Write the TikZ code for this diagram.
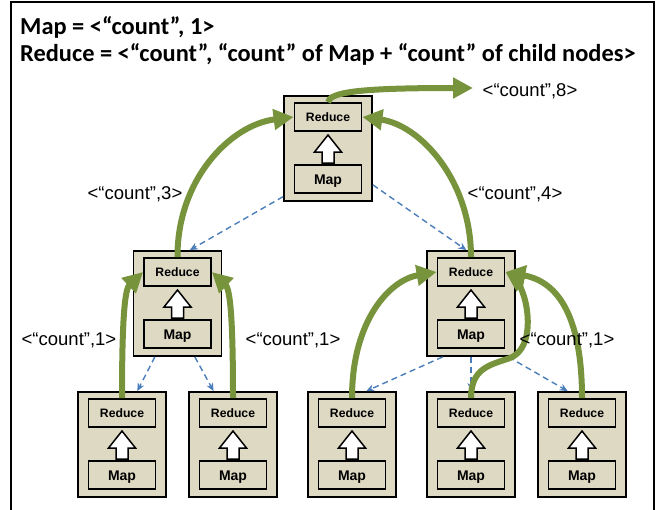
\documentclass[tikz,border=0pt]{standalone}
\usepackage{fontspec}
\setmainfont{Liberation Sans}
\newfontfamily\titlefont{Carlito}
\usetikzlibrary{arrows.meta}

\definecolor{boxtan}{HTML}{DDD9C3}
\definecolor{flowgreen}{HTML}{77933C}
\definecolor{linkblue}{HTML}{4A7EBB}

\tikzset{
  mrouter/.style={draw=black, line width=1.8pt, fill=boxtan,
    minimum width=88pt, minimum height=105pt, inner sep=0pt},
  mrinner/.style={draw=black, line width=1.8pt, fill=boxtan,
    minimum width=67pt, minimum height=28pt, inner sep=0pt},
  redtext/.style={font=\fontsize{12.2}{14}\selectfont\bfseries, text height=8.7pt, text depth=0pt},
  maptext/.style={font=\fontsize{14}{16}\selectfont\bfseries, text height=10pt, text depth=0pt},
  blockarrow/.style={draw=black, line width=1.5pt, fill=white, line join=miter},
  flowarrow/.style={draw=flowgreen, line width=6pt,
    -{Triangle[length=20pt,width=20pt]}},
  linkarrow/.style={draw=linkblue, line width=1.4pt, dash pattern=on 6pt off 4pt,
    -{Stealth[length=8pt,width=7pt]}},
  titletext/.style={font=\titlefont\bfseries\fontsize{24.4}{28}\selectfont, anchor=base west, inner sep=0pt},
  countlabel/.style={font=\fontsize{18.5}{22}\selectfont, anchor=base, inner sep=0pt},
}

% One map/reduce unit: #1 name, #2 centre x, #3 top y
\newcommand\mrunit[3]{%
  \node[mrouter] (#1) at (#2, #3+52.5) {};
  \node[mrinner, redtext] (#1r) at (#2, #3+21) {Reduce};
  \node[mrinner, maptext] (#1m) at (#2, #3+83) {Map};
  \draw[blockarrow] (#2, #3+39) -- (#2+13.5, #3+56) -- (#2+6, #3+56)
    -- (#2+6, #3+67) -- (#2-6, #3+67) -- (#2-6, #3+56) -- (#2-13.5, #3+56) -- cycle;
}

\begin{document}
\begin{tikzpicture}[x=1pt, y=-1pt]
\useasboundingbox (0,0) rectangle (660,509);
\fill[white] (0,0) rectangle (660,509);

% outer frame
\draw[line width=1.5pt] (11,520) -- (11,2) -- (654,2) -- (654,520);

% heading
\node[titletext] (head1) at (20,34) {Map = <“count”, 1>};
\node[titletext] (head2) at (20,61) {Reduce = <“count”, “count” of Map + “count” of child nodes>};

% units
\mrunit{top}{328}{96}
\mrunit{ml}{177.5}{251}
\mrunit{mr}{471}{251}
\mrunit{ba}{122}{392}
\mrunit{bb}{233}{392}
\mrunit{bc}{352}{392}
\mrunit{bd}{471}{392}
\mrunit{be}{582}{392}

% dashed tree links
\draw[linkarrow] (top.227) -- (ml.77);
\draw[linkarrow] (top.321) -- (mr.95);
\draw[linkarrow] (ml.247) -- (ba.74);
\draw[linkarrow] (ml.288) -- (bb.110);
\draw[linkarrow] (mr.242) -- (bc.75);
\draw[linkarrow] (mr.270) -- (bd.90);
\draw[linkarrow] (mr.305) -- (be.105);

% count flow
\coordinate (out) at (473,88);
\draw[flowarrow] (topr.north) .. controls (330,92) and (360,88) .. (out);
\draw[flowarrow] (mlr.north) .. controls (177,180) and (230,125) .. (topr.west);
\draw[flowarrow] (mrr.north) .. controls (471,180) and (420,125) .. (topr.east);
\draw[flowarrow] (bar.north) .. controls (122,330) and (124,290) .. (mlr.west);
\draw[flowarrow] (bbr.north) .. controls (233,330) and (231,290) .. (mlr.east);
\draw[flowarrow] (bcr.north) .. controls (352,320) and (390,280) .. (mrr.west);
\draw[flowarrow] (bdr.north) .. controls (471,368) and (490,365) .. (510,358)
  .. controls (530,350) and (530,320) .. (525,300)
  .. controls (522,288) and (515,278) .. (mrr.east);
\draw[flowarrow] (ber.north) .. controls (582,320) and (560,282) .. (mrr.east);

% count labels
\node[countlabel] (c8) at (530,96) {<“count”,8>};
\node[countlabel] (c3) at (135,199) {<“count”,3>};
\node[countlabel] (c4) at (515,199) {<“count”,4>};
\node[countlabel] (c1a) at (69,345) {<“count”,1>};
\node[countlabel] (c1b) at (293,345) {<“count”,1>};
\node[countlabel] (c1c) at (567,345) {<“count”,1>};
\end{tikzpicture}
\end{document}
